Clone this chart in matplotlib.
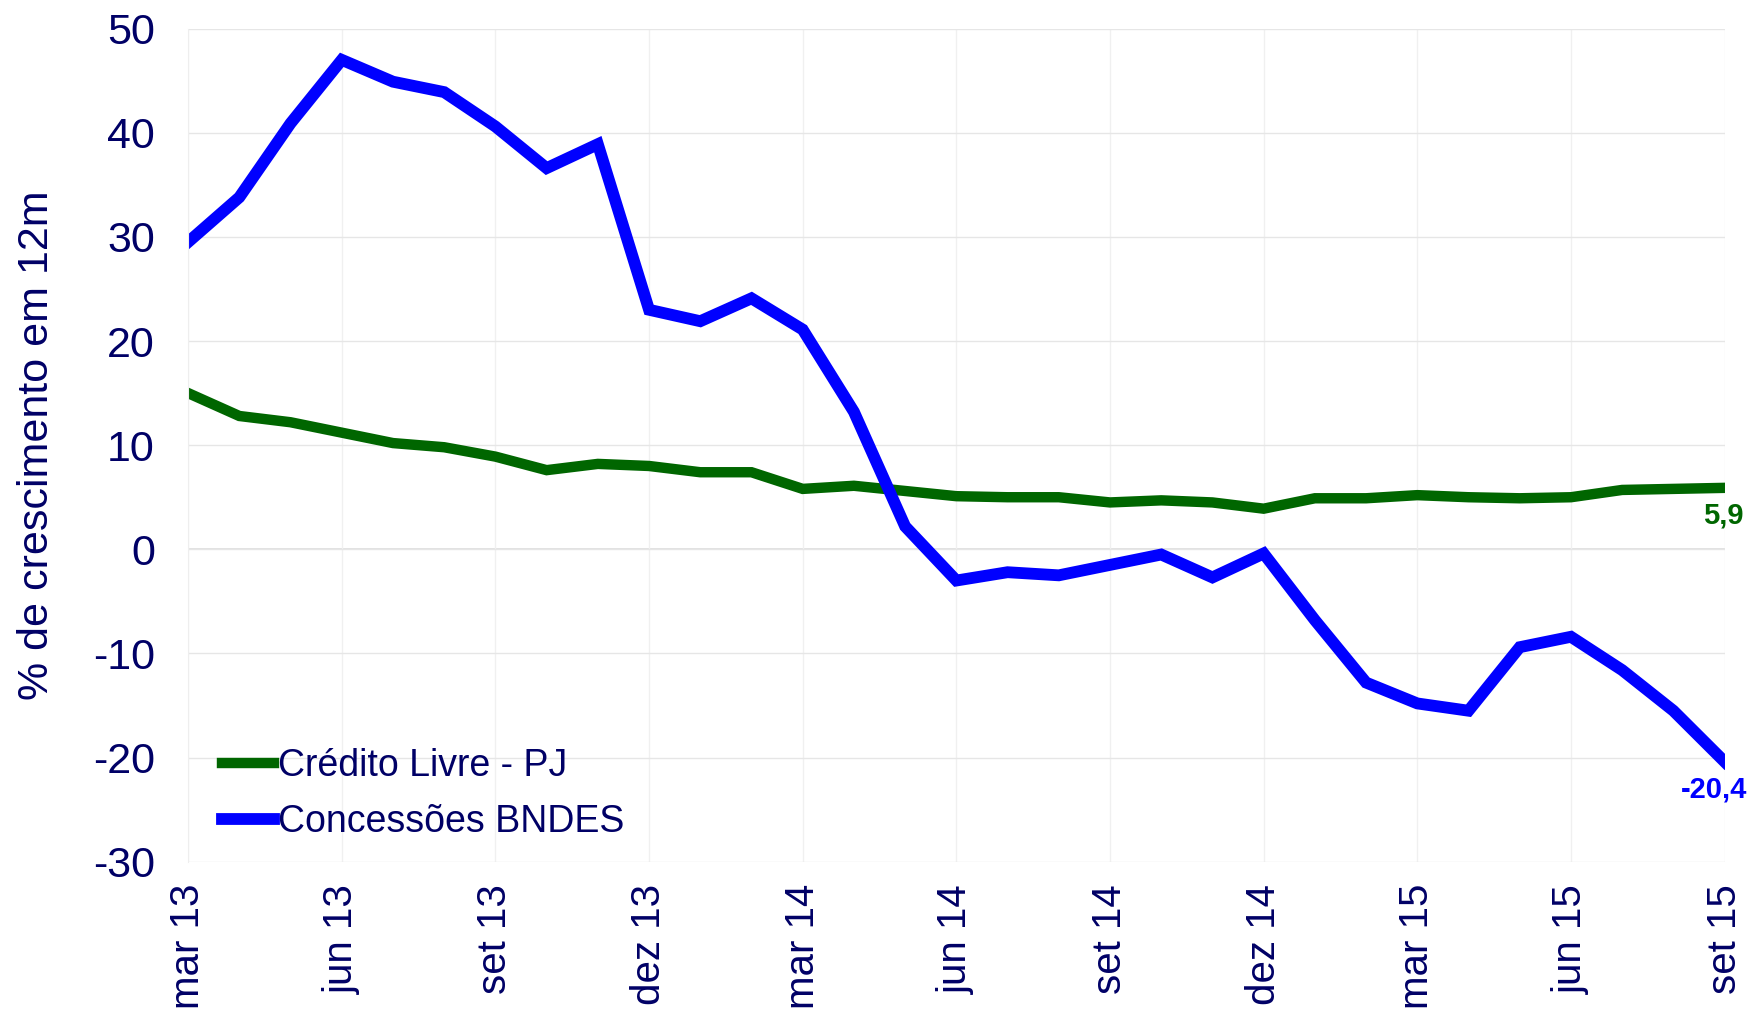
import numpy as np
import matplotlib.pyplot as plt

plt.rcParams['font.family'] = ['Liberation Sans', 'DejaVu Sans']
plt.rcParams['axes.unicode_minus'] = False

# monthly data, mar 13 .. set 15
months = ['mar 13', 'abr 13', 'mai 13', 'jun 13', 'jul 13', 'ago 13', 'set 13', 'out 13', 'nov 13',
          'dez 13', 'jan 14', 'fev 14', 'mar 14', 'abr 14', 'mai 14', 'jun 14', 'jul 14', 'ago 14',
          'set 14', 'out 14', 'nov 14', 'dez 14', 'jan 15', 'fev 15', 'mar 15', 'abr 15', 'mai 15',
          'jun 15', 'jul 15', 'ago 15', 'set 15']
credito_livre = [15.0, 12.8, 12.2, 11.2, 10.2, 9.8, 8.9, 7.6, 8.2, 8.0, 7.4, 7.4, 5.8, 6.1, 5.6,
                 5.1, 5.0, 5.0, 4.5, 4.7, 4.5, 3.9, 4.9, 4.9, 5.2, 5.0, 4.9, 5.0, 5.7, 5.8, 5.9]
bndes = [29.5, 33.8, 40.9, 47.0, 44.9, 43.9, 40.6, 36.6, 38.9, 23.0, 21.9, 24.1, 21.1, 13.2, 2.2,
         -3.0, -2.2, -2.5, -1.5, -0.5, -2.7, -0.4, -6.8, -12.8, -14.8, -15.5, -9.4, -8.4, -11.6,
         -15.5, -20.4]

navy = '#000066'
green = '#006600'
blue = '#0000ff'

x = np.arange(len(months))

fig, ax = plt.subplots(figsize=(17.58, 10.21), dpi=100)
fig.subplots_adjust(left=0.107, right=0.981, top=0.972, bottom=0.156)

ax.plot(x, credito_livre, color=green, lw=7.5, label='Crédito Livre - PJ', solid_joinstyle='miter')
ax.plot(x, bndes, color=blue, lw=8.5, label='Concessões BNDES', solid_joinstyle='miter')

ax.set_xlim(0, len(months) - 1)
ax.set_ylim(-30, 50)
ax.set_yticks(range(-30, 51, 10))
ax.set_xticks(x[::3])
ax.set_xticklabels(months[::3], rotation=90, fontsize=29, color=navy)
ax.tick_params(axis='y', labelsize=31, labelcolor=navy, length=0, pad=24)
ax.tick_params(axis='x', length=0, pad=16)

ax.grid(True, axis='y', color='#e6e6e6', lw=1)
ax.grid(True, axis='x', color='#f0f0f0', lw=1)
ax.set_axisbelow(True)
for s in ['top', 'right', 'bottom']:
    ax.spines[s].set_visible(False)
ax.spines['left'].set_color('#eeeeee')
ax.axhline(0, color='#dddddd', lw=1.2, zorder=0)

ax.set_ylabel('% de crescimento em 12m', fontsize=31, color=navy, labelpad=26)

# end labels
ax.annotate('5,9', (x[-1], credito_livre[-1]), xytext=(14, -10), textcoords='offset points',
            ha='right', va='top', fontsize=21, fontweight='bold', color=green, annotation_clip=False)
ax.annotate('-20,4', (x[-1], bndes[-1]), xytext=(16, -10), textcoords='offset points',
            ha='right', va='top', fontsize=21, fontweight='bold', color=blue, annotation_clip=False)

leg = ax.legend(loc='lower left', bbox_to_anchor=(0.0, -0.015), frameon=False, fontsize=27,
                handlelength=1.4, handletextpad=0.1, labelspacing=0.55, labelcolor=navy)

plt.savefig('out.png', dpi=100)
